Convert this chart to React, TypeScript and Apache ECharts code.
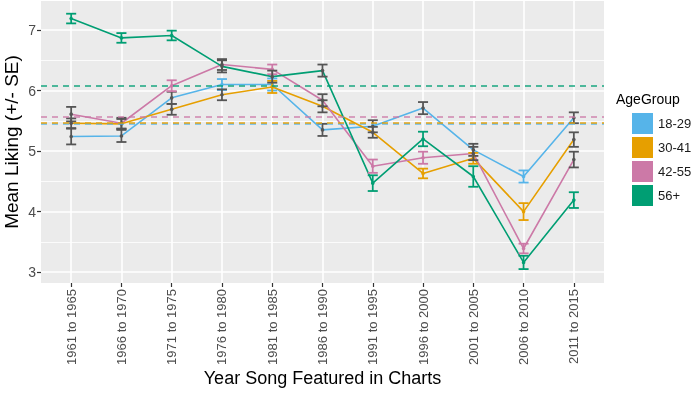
import React, { useEffect, useRef } from "react";
import * as echarts from "echarts";

const categories = [
  "1961 to 1965", "1966 to 1970", "1971 to 1975", "1976 to 1980", "1981 to 1985",
  "1986 to 1990", "1991 to 1995", "1996 to 2000", "2001 to 2005", "2006 to 2010", "2011 to 2015",
];
const ageGroups = ["18-29", "30-41", "42-55", "56+"];
const groupColors = ["#56B4E9", "#E69F00", "#CC79A7", "#009E73"];

const mean1829 = [5.24, 5.25, 5.88, 6.10, 6.10, 5.35, 5.41, 5.71, 5.02, 4.58, 5.55];
const se1829 = [0.13, 0.10, 0.10, 0.09, 0.10, 0.10, 0.10, 0.10, 0.10, 0.10, 0.09];
const grey1829 = [1, 1, 1, 0, 0, 1, 1, 1, 1, 0, 1];

const mean3041 = [5.46, 5.45, 5.69, 5.93, 6.06, 5.74, 5.31, 4.63, 4.88, 4.00, 5.19];
const se3041 = [0.08, 0.08, 0.09, 0.09, 0.10, 0.10, 0.09, 0.08, 0.09, 0.14, 0.12];
const grey3041 = [1, 1, 1, 1, 0, 1, 1, 0, 0, 0, 1];

const mean4255 = [5.61, 5.46, 6.08, 6.43, 6.35, 5.84, 4.75, 4.89, 4.96, 3.39, 4.86];
const se4255 = [0.12, 0.09, 0.09, 0.09, 0.08, 0.10, 0.11, 0.10, 0.11, 0.08, 0.13];
const grey4255 = [1, 1, 0, 1, 0, 1, 0, 0, 1, 0, 1];

const mean56 = [7.19, 6.87, 6.91, 6.40, 6.23, 6.33, 4.47, 5.20, 4.58, 3.16, 4.19];
const se56 = [0.08, 0.08, 0.08, 0.10, 0.10, 0.10, 0.13, 0.12, 0.17, 0.11, 0.13];
const grey56 = [0, 0, 0, 1, 1, 1, 0, 0, 0, 0, 0];

const overallMeans = [5.45, 5.455, 5.56, 6.08];

const yMajorTicks = [3, 4, 5, 6, 7];
const yMinorTicks = [3.5, 4.5, 5.5, 6.5];

const means = [mean1829, mean3041, mean4255, mean56];
const ses = [se1829, se3041, se4255, se56];
const greys = [grey1829, grey3041, grey4255, grey56];

const GREY = "#555555";
const FONT = "'Liberation Sans', Arial, sans-serif";

export default function App() {
  const ref = useRef<HTMLDivElement>(null);
  useEffect(() => {
    if (!ref.current) return;
    const chart = echarts.init(ref.current, undefined, { renderer: "svg" });
    const xIdx = categories.map((_, i) => i);
    const yMin = 2.82;
    const yMax = 7.48;

    const lineSeries: any[] = ageGroups.map((name, g) => ({
      name,
      type: "line",
      data: means[g].map((v, i) => [i, v]),
      showSymbol: false,
      symbol: "rect",
      z: 2,
      lineStyle: { color: groupColors[g], width: 1.6 },
      itemStyle: { color: groupColors[g] },
      markLine: {
        silent: true,
        symbol: "none",
        label: { show: false },
        lineStyle: { color: groupColors[g], type: [6, 5], width: 1.6, opacity: 0.9 },
        data: [{ yAxis: overallMeans[g] }],
      },
    }));

    const barSeries: any[] = ageGroups.map((name, g) => ({
      name: name + " SE",
      type: "custom",
      z: 3,
      data: means[g].map((v, i) => [i, v, ses[g][i], greys[g][i]]),
      encode: { x: 0, y: 1 },
      renderItem: (params: any, api: any) => {
        const x = api.value(0);
        const v = api.value(1);
        const se = api.value(2);
        const grey = api.value(3);
        const top = api.coord([x, v + se]);
        const bot = api.coord([x, v - se]);
        const mid = api.coord([x, v]);
        const hw = api.size([0.1, 0])[0];
        const c = grey ? GREY : groupColors[g];
        const style = { stroke: c, lineWidth: 1.8, fill: "none" };
        return {
          type: "group",
          children: [
            { type: "line", shape: { x1: top[0], y1: top[1], x2: bot[0], y2: bot[1] }, style },
            { type: "line", shape: { x1: top[0] - hw, y1: top[1], x2: top[0] + hw, y2: top[1] }, style },
            { type: "line", shape: { x1: bot[0] - hw, y1: bot[1], x2: bot[0] + hw, y2: bot[1] }, style },
            { type: "circle", shape: { cx: mid[0], cy: mid[1], r: 1.8 }, style: { fill: c } },
          ],
        };
      },
    }));

    chart.setOption({
      animation: false,
      textStyle: { fontFamily: FONT },
      title: {
        text: "AgeGroup",
        left: 611,
        top: 87,
        textStyle: { fontSize: 14, fontWeight: "normal", color: "#000", fontFamily: FONT },
      },
      legend: {
        orient: "vertical",
        left: 627,
        top: 108,
        data: ageGroups,
        icon: "rect",
        itemWidth: 21,
        itemHeight: 21,
        itemGap: 3,
        textStyle: { fontSize: 13, color: "#1a1a1a", fontFamily: FONT },
      },
      grid: {
        left: 41,
        right: 96,
        top: 1,
        bottom: 115,
        show: true,
        backgroundColor: "#EBEBEB",
        borderWidth: 0,
        containLabel: false,
        outerBoundsMode: "none",
      },
      xAxis: {
        type: "value",
        min: -0.6,
        max: 10.6,
        name: "Year Song Featured in Charts",
        nameLocation: "middle",
        nameGap: 86,
        nameMoveOverlap: false,
        nameTextStyle: { fontSize: 18, color: "#000", fontFamily: FONT },
        axisLine: { show: false, onZero: false },
        axisTick: { show: true, length: 4, lineStyle: { color: "#333", width: 1.2 }, customValues: xIdx },
        axisLabel: {
          customValues: xIdx,
          rotate: 90,
          margin: 6,
          fontSize: 13,
          color: "#4D4D4D",
          formatter: (v: number) => categories[Math.round(v)],
        },
        splitLine: { show: true, lineStyle: { color: "#FFFFFF", width: 1.6 } },
      },
      yAxis: [
        {
          type: "value",
          min: yMin,
          max: yMax,
          name: "Mean Liking (+/- SE)",
          nameLocation: "middle",
          nameGap: 20,
          nameMoveOverlap: false,
          nameTextStyle: { fontSize: 19, color: "#000", fontFamily: FONT },
          axisLine: { show: false, onZero: false },
          axisTick: { show: true, length: 4, lineStyle: { color: "#333", width: 1.2 }, customValues: yMajorTicks },
          axisLabel: { customValues: yMajorTicks, fontSize: 14, color: "#4D4D4D", margin: 5 },
          splitLine: { show: true, lineStyle: { color: "#FFFFFF", width: 1.6 } },
        },
        {
          type: "value",
          min: yMin,
          max: yMax,
          position: "left",
          axisLine: { show: false, onZero: false },
          axisTick: { show: false, customValues: yMinorTicks },
          axisLabel: { show: false },
          splitLine: { show: true, lineStyle: { color: "#FFFFFF", width: 0.8 } },
        },
      ],
      series: [...lineSeries, ...barSeries],
    });
    return () => chart.dispose();
  }, []);
  return <div ref={ref} style={{ position: "fixed", left: 0, top: 0, width: 700, height: 398 }} />;
}
